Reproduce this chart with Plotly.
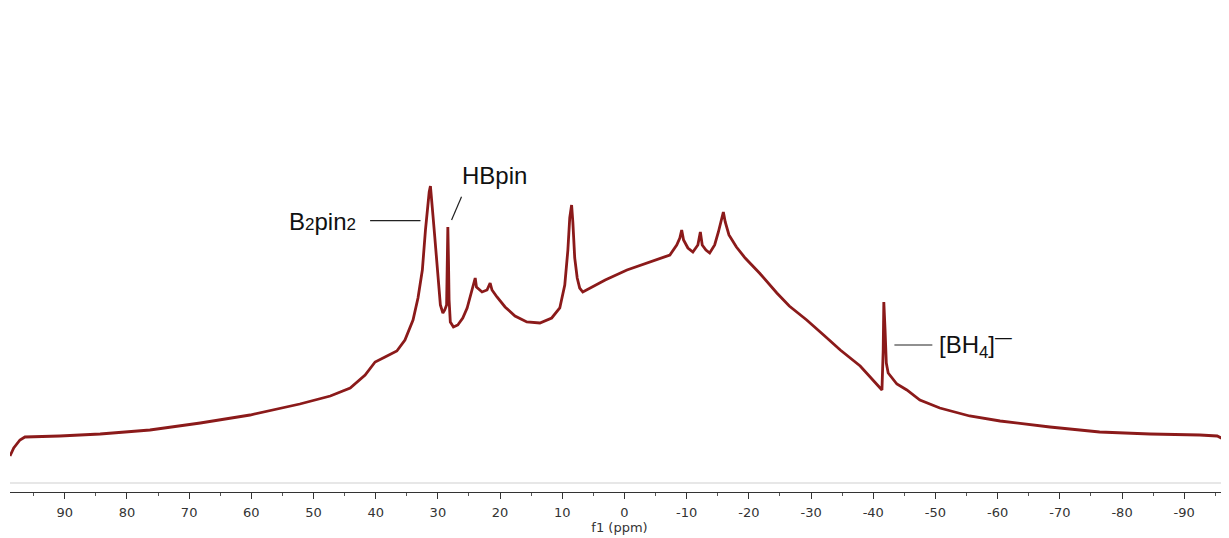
import plotly.graph_objects as go

# Spectrum: chemical shift (ppm) and intensity (arbitrary units)
ppm = [98.8, 98.2, 97.2, 96.4, 90.8, 84.3, 76.3, 68.2, 60.2, 52.2, 47.3, 44.1, 41.7, 40.1,
       38.5, 36.6, 35.3, 34.0, 33.2, 32.5, 32.0, 31.6, 31.4, 31.2, 31.0, 30.8, 30.5, 30.1,
       29.9, 29.6, 29.2, 28.9, 28.6, 28.5, 28.4, 28.3, 28.2, 28.0, 27.5, 26.8, 26.0, 25.3,
       24.7, 24.2, 24.0, 23.8, 22.9, 22.1, 21.6, 21.3, 20.5, 19.2, 17.6, 15.7, 13.6, 11.7,
       10.4, 9.6, 9.1, 8.8, 8.5, 8.3, 8.0, 7.6, 7.2, 6.7, 5.5, 3.1, -0.4, -4.1, -7.3, -8.4,
       -8.9, -9.2, -9.5, -10.2, -11.0, -11.8, -12.2, -12.5, -13.1, -13.7, -14.5, -15.1,
       -15.6, -15.9, -16.2, -16.8, -18.0, -19.4, -21.7, -23.4, -24.0, -24.5, -26.5, -29.3,
       -32.2, -34.7, -37.9, -40.0, -40.8, -41.4, -41.6, -41.7, -41.9, -42.1, -42.4, -43.8,
       -45.4, -47.5, -50.7, -55.5, -60.4, -68.4, -76.4, -84.5, -92.5, -95.3, -96.3, -97.1]
intensity = [36, 44, 52, 55, 56, 58, 62, 69, 77, 88, 96, 104, 117, 130,
             135, 141, 152, 172, 194, 222, 262, 289, 300, 306, 294, 277, 255, 227,
             205, 187, 179, 182, 187, 232, 265, 232, 192, 170, 165, 167, 174, 184,
             197, 207, 214, 205, 200, 202, 209, 202, 195, 185, 176, 170, 169, 174,
             184, 207, 242, 274, 287, 270, 234, 214, 204, 200, 204, 212, 222, 230, 237, 247,
             254, 262, 252, 244, 240, 247, 260, 247, 242, 239, 247, 260,
             272, 280, 270, 257, 245, 234, 219, 207, 202, 199, 186, 172,
             156, 142, 126, 112, 107, 102, 142, 190, 162, 129, 119, 108,
             102, 92, 84, 76, 71, 65, 60, 58, 57, 56, 53, 50]

tick_vals = [90, 80, 70, 60, 50, 40, 30, 20, 10, 0, -10, -20, -30, -40, -50, -60, -70, -80, -90]
tick_text = [str(v) for v in tick_vals]

LINE = "#8B1A1A"
FONT_LBL = "Liberation Sans, Arial, sans-serif"

fig = go.Figure()
fig.add_trace(go.Scatter(x=ppm, y=intensity, mode="lines",
                         line=dict(color=LINE, width=2.8), hoverinfo="skip",
                         showlegend=False))

# grey rule just above the axis
fig.add_shape(type="line", xref="paper", yref="y", x0=0, x1=1, y0=9, y1=9,
              line=dict(color="#cfcfcf", width=1))

# label leader lines
fig.add_shape(type="line", xref="x", yref="y", x0=40.9, x1=32.8, y0=271.3, y1=271.3,
              line=dict(color="#222222", width=1.2))
fig.add_shape(type="line", xref="x", yref="y", x0=26.2, x1=27.8, y0=295.3, y1=272,
              line=dict(color="#222222", width=1.2))
fig.add_shape(type="line", xref="x", yref="y", x0=-43.4, x1=-49.5, y0=147, y1=147,
              line=dict(color="#222222", width=1.2))

fig.add_annotation(x=54.3, y=270.3, xref="x", yref="y", showarrow=False,
                   xanchor="left", yanchor="middle",
                   text='B<span style="font-size:17px">2</span>pin<span style="font-size:17px">2</span>',
                   font=dict(family=FONT_LBL, size=24, color="#111111"))
fig.add_annotation(x=26.4, y=317, xref="x", yref="y", showarrow=False,
                   xanchor="left", yanchor="middle", text="HBpin",
                   font=dict(family=FONT_LBL, size=24, color="#111111"))
fig.add_annotation(x=-50.2, y=147, xref="x", yref="y", showarrow=False,
                   xanchor="left", yanchor="middle",
                   text="[BH<sub>4</sub>]<sup>—</sup>",
                   font=dict(family=FONT_LBL, size=24, color="#111111"))

fig.update_layout(
    width=1221, height=530,
    margin=dict(l=2, r=0, t=0, b=46),
    paper_bgcolor="white", plot_bgcolor="white",
    xaxis=dict(range=[98.8, -97.2], tickmode="array", tickvals=tick_vals, ticktext=tick_text,
               ticks="outside", ticklen=6, tickwidth=1, tickcolor="#333333",
               showline=True, linecolor="#333333", linewidth=1.2,
               showgrid=False, zeroline=False, ticklabelstandoff=2,
               tickfont=dict(family="DejaVu Sans, sans-serif", size=13, color="#333333"),
               minor=dict(dtick=5, ticks="outside", ticklen=3, tickcolor="#555555", showgrid=False),
               title=dict(text="f1 (ppm)", standoff=3,
                          font=dict(family="DejaVu Sans, sans-serif", size=13, color="#333333"))),
    yaxis=dict(range=[0, 484], visible=False, showgrid=False, zeroline=False),
)

fig.write_html("out.html")
